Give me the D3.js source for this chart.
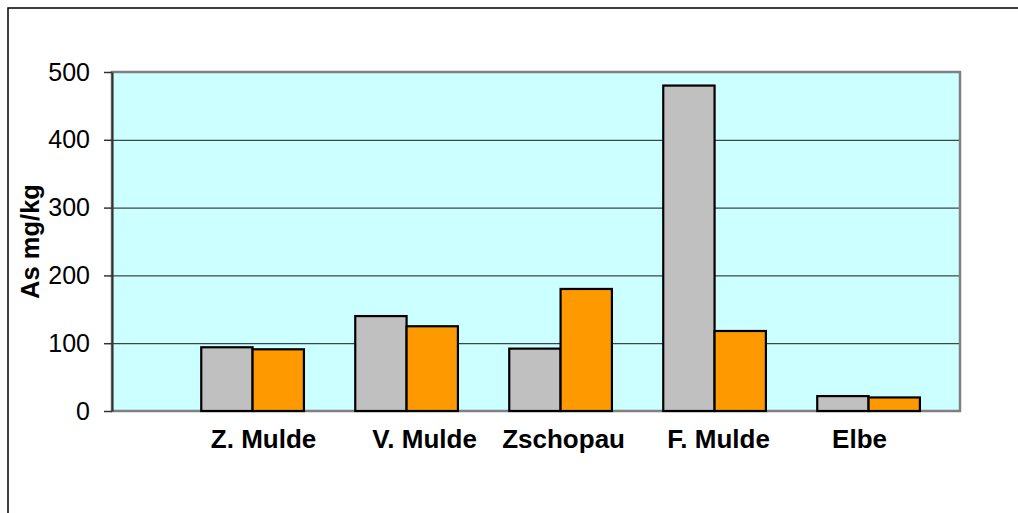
<!DOCTYPE html>
<html>
<head>
<meta charset="utf-8">
<script src="https://cdn.jsdelivr.net/npm/d3@7"></script>
<style>
  body { margin: 0; background: #fff; }
  svg { display: block; font-family: "Liberation Sans", Arial, sans-serif; }
</style>
</head>
<body>
<div id="chart"></div>
<script>
// Data
const categories = ['Z. Mulde', 'V. Mulde', 'Zschopau', 'F. Mulde', 'Elbe'];
const seriesNames = ['A', 'B'];
const seriesA = [94, 140, 92, 480, 22];
const seriesB = [91, 125, 180, 118, 20];
const yTicks = [0, 100, 200, 300, 400, 500];

const colors = ['#C0C0C0', '#FF9900'];
// label nudges so they sit like in the original
const labelShift = [11, 18, 3, 4, -9];

const W = 1018, H = 513;
const plot = { left: 112, right: 960, top: 72, bottom: 411 };

const svg = d3.select('#chart').append('svg')
  .attr('width', W)
  .attr('height', H);

// outer chart frame (only top and left edges are on screen)
svg.append('rect')
  .attr('x', 8)
  .attr('y', 8)
  .attr('width', W + 20)
  .attr('height', H + 20)
  .attr('fill', 'none')
  .attr('stroke', '#000')
  .attr('stroke-width', 1.5);

const x0 = d3.scaleBand()
  .domain(categories)
  .range([plot.left, plot.right])
  .paddingInner(1 / 3)
  .paddingOuter(0.42)
  .align(0.69);

const x1 = d3.scaleBand()
  .domain(seriesNames)
  .range([0, x0.bandwidth()]);

const y = d3.scaleLinear()
  .domain([0, 500])
  .range([plot.bottom, plot.top]);

// plot background
svg.append('rect')
  .attr('x', plot.left)
  .attr('y', plot.top)
  .attr('width', plot.right - plot.left)
  .attr('height', plot.bottom - plot.top)
  .attr('fill', '#CCFFFF');

// gridlines
svg.append('g')
  .selectAll('line')
  .data(yTicks.filter(d => d > 0 && d < 500))
  .enter()
  .append('line')
  .attr('x1', plot.left)
  .attr('x2', plot.right)
  .attr('y1', d => y(d) + 0.5)
  .attr('y2', d => y(d) + 0.5)
  .attr('stroke', '#1a1a1a')
  .attr('stroke-width', 1);

// plot border
svg.append('rect')
  .attr('x', plot.left)
  .attr('y', plot.top)
  .attr('width', plot.right - plot.left)
  .attr('height', plot.bottom - plot.top)
  .attr('fill', 'none')
  .attr('stroke', '#808080')
  .attr('stroke-width', 2.5);

// bars
const rows = categories.map((c, i) => ({ cat: c, values: [seriesA[i], seriesB[i]] }));

const groups = svg.append('g')
  .selectAll('g')
  .data(rows)
  .enter()
  .append('g')
  .attr('transform', d => `translate(${x0(d.cat)},0)`);

groups.selectAll('rect')
  .data(d => d.values.map((v, k) => ({ key: seriesNames[k], value: v, k })))
  .enter()
  .append('rect')
  .attr('x', d => x1(d.key))
  .attr('y', d => y(d.value))
  .attr('width', x1.bandwidth())
  .attr('height', d => y(0) - y(d.value))
  .attr('fill', d => colors[d.k])
  .attr('stroke', '#000')
  .attr('stroke-width', 2.2);

// Y axis
const yAxis = svg.append('g')
  .attr('transform', `translate(${plot.left},0)`)
  .call(d3.axisLeft(y).tickValues(yTicks).tickSize(8).tickPadding(14).tickSizeOuter(0));

yAxis.select('.domain').attr('stroke', '#333').attr('stroke-width', 2);
yAxis.selectAll('.tick line').attr('stroke', '#333').attr('stroke-width', 1.5);
yAxis.selectAll('.tick text')
  .style('font-size', '25px')
  .style('font-family', '"Liberation Sans", Arial, sans-serif')
  .attr('fill', '#000');

// X axis (labels only)
const xAxis = svg.append('g')
  .attr('transform', `translate(0,${plot.bottom})`)
  .call(d3.axisBottom(x0).tickSize(0).tickPadding(0));

xAxis.select('.domain').remove();
xAxis.selectAll('.tick text')
  .attr('dy', 0)
  .attr('y', 37)
  .attr('dx', (d, i) => labelShift[i])
  .style('font-size', '26px')
  .style('font-weight', 'bold')
  .style('font-family', '"Liberation Sans", Arial, sans-serif')
  .attr('fill', '#000');

// Y axis title
svg.append('text')
  .attr('transform', `translate(39,${(plot.top + plot.bottom) / 2}) rotate(-90)`)
  .attr('text-anchor', 'middle')
  .style('font-size', '25.5px')
  .style('font-weight', 'bold')
  .text('As mg/kg');
</script>
</body>
</html>
